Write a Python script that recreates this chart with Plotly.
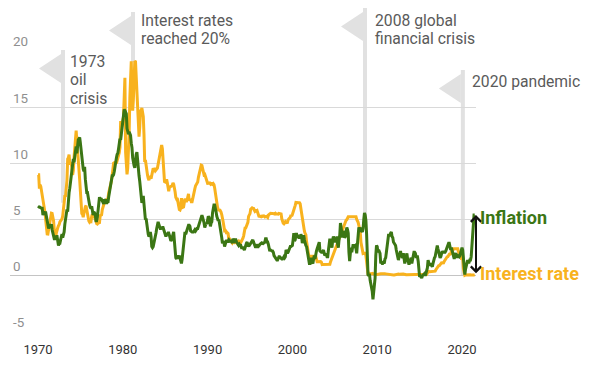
import plotly.graph_objects as go

# ---------------- data (monthly, starting January 1970) ----------------
start_year = 1970

inflation = [
    6.2, 6.1, 6.1, 6.1, 6.0, 6.0, 6.0, 5.4, 5.7, 5.6, 5.6, 5.6,   # 1970
    5.3, 5.0, 4.7, 4.2, 4.4, 4.6, 4.4, 4.6, 4.1, 3.8, 3.3, 3.3,   # 1971
    3.3, 3.5, 3.5, 3.5, 3.2, 2.7, 2.9, 2.9, 3.2, 3.4, 3.7, 3.4,   # 1972
    3.6, 3.9, 4.6, 5.1, 5.5, 5.9, 5.7, 7.4, 7.4, 7.8, 8.3, 8.7,   # 1973
    9.4, 10.0, 10.4, 10.1, 10.7, 10.9, 11.5, 10.9, 11.9, 12.1, 12.2, 12.3,  # 1974
    11.8, 11.2, 10.3, 10.2, 9.5, 9.3, 9.7, 8.6, 7.9, 7.4, 7.4, 6.9,  # 1975
    6.7, 6.3, 6.1, 6.0, 6.2, 5.9, 5.4, 5.7, 5.5, 5.5, 4.9, 4.9,   # 1976
    5.2, 5.9, 6.4, 7.0, 6.7, 6.9, 6.8, 6.6, 6.6, 6.4, 6.7, 6.7,   # 1977
    6.8, 6.4, 6.6, 6.5, 7.0, 7.4, 7.7, 7.9, 8.3, 8.9, 8.9, 9.0,   # 1978
    9.3, 9.9, 10.1, 10.5, 10.8, 10.9, 11.3, 11.8, 12.2, 12.1, 12.6, 13.3,  # 1979
    13.9, 14.2, 14.8, 14.7, 14.4, 14.4, 13.1, 12.9, 12.6, 12.8, 12.6, 12.5,  # 1980
    11.8, 11.4, 10.5, 10.0, 9.8, 9.6, 10.8, 10.8, 11.0, 10.1, 9.6, 8.9,  # 1981
    8.4, 7.6, 6.8, 6.5, 6.7, 7.1, 6.4, 5.9, 5.0, 5.1, 4.6, 3.8,   # 1982
    3.7, 3.5, 3.6, 3.9, 3.5, 2.6, 2.5, 2.6, 2.9, 2.9, 3.3, 3.8,   # 1983
    4.2, 4.6, 4.8, 4.6, 4.2, 4.2, 4.2, 4.3, 4.3, 4.3, 4.1, 3.9,   # 1984
    3.5, 3.5, 3.7, 3.7, 3.8, 3.8, 3.6, 3.3, 3.1, 3.2, 3.5, 3.8,   # 1985
    3.9, 3.1, 2.2, 1.6, 1.5, 1.8, 1.6, 1.6, 1.8, 1.5, 1.3, 1.1,   # 1986
    1.5, 2.1, 3.0, 3.8, 3.9, 3.7, 3.9, 4.3, 4.4, 4.5, 4.5, 4.4,   # 1987
    4.0, 3.9, 3.9, 3.9, 3.9, 4.0, 4.1, 4.0, 4.2, 4.2, 4.2, 4.4,   # 1988
    4.7, 4.8, 5.0, 5.1, 5.4, 5.2, 5.0, 4.7, 4.3, 4.5, 4.7, 4.6,   # 1989
    5.2, 5.3, 5.2, 4.7, 4.4, 4.7, 4.8, 5.6, 6.2, 6.3, 6.3, 6.1,   # 1990
    5.7, 5.3, 4.9, 4.9, 5.0, 4.7, 4.4, 3.8, 3.4, 2.9, 3.0, 3.1,   # 1991
    2.6, 2.8, 3.2, 3.2, 3.0, 3.1, 3.2, 3.1, 3.0, 3.2, 3.0, 2.9,   # 1992
    3.3, 3.2, 3.1, 3.2, 3.2, 3.0, 2.8, 2.8, 2.7, 2.8, 2.7, 2.7,   # 1993
    2.5, 2.5, 2.5, 2.4, 2.3, 2.5, 2.8, 2.9, 3.0, 2.6, 2.7, 2.7,   # 1994
    2.8, 2.9, 2.9, 3.1, 3.2, 3.0, 2.8, 2.6, 2.5, 2.8, 2.6, 2.5,   # 1995
    2.7, 2.7, 2.8, 2.9, 2.9, 2.8, 3.0, 2.9, 3.0, 3.0, 3.3, 3.3,   # 1996
    3.0, 3.0, 2.8, 2.5, 2.2, 2.3, 2.2, 2.2, 2.2, 2.1, 1.8, 1.7,   # 1997
    1.6, 1.4, 1.4, 1.4, 1.7, 1.7, 1.7, 1.6, 1.5, 1.5, 1.5, 1.6,   # 1998
    1.7, 1.6, 1.7, 2.3, 2.1, 2.0, 2.1, 2.3, 2.6, 2.6, 2.6, 2.7,   # 1999
    2.7, 3.2, 3.8, 3.1, 3.2, 3.7, 3.7, 3.4, 3.5, 3.4, 3.4, 3.4,   # 2000
    3.7, 3.5, 2.9, 3.3, 3.6, 3.2, 2.7, 2.7, 2.6, 2.1, 1.9, 1.6,   # 2001
    1.1, 1.1, 1.5, 1.6, 1.2, 1.1, 1.5, 1.8, 1.5, 2.0, 2.2, 2.4,   # 2002
    2.6, 3.0, 3.0, 2.2, 2.1, 2.1, 2.1, 2.2, 2.3, 2.0, 1.8, 1.9,   # 2003
    1.9, 1.7, 1.7, 2.3, 3.1, 3.3, 3.0, 2.7, 2.5, 3.2, 3.5, 3.3,   # 2004
    3.0, 3.0, 3.1, 3.5, 2.8, 2.5, 3.2, 3.6, 4.7, 4.3, 3.5, 3.4,   # 2005
    4.0, 3.6, 3.4, 3.5, 4.2, 4.3, 4.1, 3.8, 2.1, 1.3, 2.0, 2.5,   # 2006
    2.1, 2.4, 2.8, 2.6, 2.7, 2.7, 2.4, 2.0, 2.8, 3.5, 4.3, 4.1,   # 2007
    4.3, 4.0, 4.0, 3.9, 4.2, 5.0, 5.6, 5.4, 4.9, 3.7, 1.1, 0.1,   # 2008
    0.0, 0.2, -0.4, -0.7, -1.3, -1.4, -2.1, -1.5, -1.3, -0.2, 1.8, 2.7,  # 2009
    2.6, 2.1, 2.3, 2.2, 2.0, 1.1, 1.2, 1.1, 1.1, 1.2, 1.1, 1.5,   # 2010
    1.6, 2.1, 2.7, 3.2, 3.6, 3.6, 3.6, 3.8, 3.9, 3.5, 3.4, 3.0,   # 2011
    2.9, 2.9, 2.7, 2.3, 1.7, 1.7, 1.4, 1.7, 2.0, 2.2, 1.8, 1.7,   # 2012
    1.6, 2.0, 1.5, 1.1, 1.4, 1.8, 2.0, 1.5, 1.2, 1.0, 1.2, 1.5,   # 2013
    1.6, 1.1, 1.5, 2.0, 2.1, 2.1, 2.0, 1.7, 1.7, 1.7, 1.3, 0.8,   # 2014
    -0.1, 0.0, -0.1, -0.2, 0.0, 0.1, 0.2, 0.2, 0.0, 0.2, 0.5, 0.7,  # 2015
    1.4, 1.0, 0.9, 1.1, 1.0, 1.0, 0.8, 1.1, 1.5, 1.6, 1.7, 2.1,   # 2016
    2.5, 2.7, 2.4, 2.2, 1.9, 1.6, 1.7, 1.9, 2.2, 2.0, 2.2, 2.1,   # 2017
    2.1, 2.2, 2.4, 2.5, 2.8, 2.9, 2.9, 2.7, 2.3, 2.5, 2.2, 1.9,   # 2018
    1.6, 1.5, 1.9, 2.0, 1.8, 1.6, 1.8, 1.7, 1.7, 1.8, 2.1, 2.3,   # 2019
    2.5, 2.3, 1.5, 0.3, 0.1, 0.6, 1.0, 1.3, 1.4, 1.2, 1.2, 1.4,   # 2020
    1.4, 1.7, 2.6, 4.2, 5.0, 5.4, 5.4,                            # 2021
]

interest_rate = [
    8.98, 8.98, 7.76, 8.10, 7.94, 7.60, 7.21, 6.61, 6.29, 6.20, 5.60, 4.90,  # 1970
    4.14, 3.72, 3.71, 4.16, 4.63, 4.91, 5.31, 5.57, 5.55, 5.20, 4.91, 4.14,  # 1971
    3.50, 3.29, 3.83, 4.17, 4.27, 4.46, 4.55, 4.80, 4.87, 5.04, 5.06, 5.33,  # 1972
    5.94, 6.58, 7.09, 7.12, 7.84, 8.49, 10.40, 10.50, 10.78, 10.01, 10.03, 9.95,  # 1973
    9.65, 8.97, 9.35, 10.51, 11.31, 11.93, 12.92, 12.01, 11.34, 10.06, 9.45, 8.53,  # 1974
    7.13, 6.24, 5.54, 5.49, 5.22, 5.55, 6.10, 6.14, 6.24, 5.82, 5.22, 5.20,  # 1975
    4.87, 4.77, 4.84, 4.82, 5.29, 5.48, 5.31, 5.29, 5.25, 5.03, 4.95, 4.65,  # 1976
    4.61, 4.68, 4.69, 4.73, 5.35, 5.39, 5.42, 5.90, 6.14, 6.47, 6.51, 6.56,  # 1977
    6.70, 6.78, 6.79, 6.89, 7.36, 7.60, 7.81, 8.04, 8.45, 8.96, 9.76, 10.03,  # 1978
    10.07, 10.06, 10.09, 10.01, 10.24, 10.29, 10.47, 10.94, 11.43, 13.77, 13.18, 13.78,  # 1979
    13.82, 14.13, 17.19, 17.61, 10.98, 9.47, 9.03, 9.61, 10.87, 12.81, 15.85, 18.90,  # 1980
    19.08, 15.93, 14.70, 15.72, 18.52, 19.10, 19.04, 17.82, 15.87, 15.08, 13.31, 12.37,  # 1981
    13.22, 14.78, 14.68, 14.94, 14.45, 14.15, 12.59, 10.12, 10.31, 9.71, 9.20, 8.95,  # 1982
    8.68, 8.51, 8.77, 8.80, 8.63, 8.98, 9.37, 9.56, 9.45, 9.48, 9.34, 9.47,  # 1983
    9.56, 9.59, 9.91, 10.29, 10.32, 11.06, 11.23, 11.64, 11.30, 9.99, 9.43, 8.38,  # 1984
    8.35, 8.50, 8.58, 8.27, 7.97, 7.53, 7.88, 7.90, 7.92, 7.99, 8.05, 8.27,  # 1985
    8.14, 7.86, 7.48, 6.99, 6.85, 6.92, 6.56, 6.17, 5.89, 5.85, 6.04, 6.91,  # 1986
    6.43, 6.10, 6.13, 6.37, 6.85, 6.73, 6.58, 6.73, 7.22, 7.29, 6.69, 6.77,  # 1987
    6.83, 6.58, 6.58, 6.87, 7.09, 7.51, 7.75, 8.01, 8.19, 8.30, 8.35, 8.76,  # 1988
    9.12, 9.36, 9.85, 9.84, 9.81, 9.53, 9.24, 8.99, 9.02, 8.84, 8.55, 8.45,  # 1989
    8.23, 8.24, 8.28, 8.26, 8.18, 8.29, 8.15, 8.13, 8.20, 8.11, 7.81, 7.31,  # 1990
    6.91, 6.25, 6.12, 5.91, 5.78, 5.90, 5.82, 5.66, 5.45, 5.21, 4.81, 4.43,  # 1991
    4.03, 4.06, 3.98, 3.73, 3.82, 3.76, 3.25, 3.30, 3.22, 3.10, 3.09, 2.92,  # 1992
    3.02, 3.03, 3.07, 2.96, 3.00, 3.04, 3.06, 3.03, 3.09, 2.99, 3.02, 2.96,  # 1993
    3.05, 3.25, 3.34, 3.56, 4.01, 4.25, 4.26, 4.47, 4.73, 4.76, 5.29, 5.45,  # 1994
    5.53, 5.92, 5.98, 6.05, 6.01, 6.00, 5.85, 5.74, 5.80, 5.76, 5.80, 5.60,  # 1995
    5.56, 5.22, 5.31, 5.22, 5.24, 5.27, 5.40, 5.22, 5.30, 5.24, 5.31, 5.29,  # 1996
    5.25, 5.19, 5.39, 5.51, 5.50, 5.56, 5.52, 5.54, 5.54, 5.50, 5.52, 5.50,  # 1997
    5.56, 5.51, 5.49, 5.45, 5.49, 5.56, 5.54, 5.55, 5.51, 5.07, 4.83, 4.68,  # 1998
    4.63, 4.76, 4.81, 4.74, 4.74, 4.76, 4.99, 5.07, 5.22, 5.20, 5.42, 5.30,  # 1999
    5.45, 5.73, 5.85, 6.02, 6.27, 6.53, 6.54, 6.50, 6.52, 6.51, 6.51, 6.40,  # 2000
    5.98, 5.49, 5.31, 4.80, 4.21, 3.97, 3.77, 3.65, 3.07, 2.49, 2.09, 1.82,  # 2001
    1.73, 1.74, 1.73, 1.75, 1.75, 1.75, 1.73, 1.74, 1.75, 1.75, 1.34, 1.24,  # 2002
    1.24, 1.26, 1.25, 1.26, 1.26, 1.22, 1.01, 1.03, 1.01, 1.01, 1.00, 0.98,  # 2003
    1.00, 1.01, 1.00, 1.00, 1.00, 1.03, 1.26, 1.43, 1.61, 1.76, 1.93, 2.16,  # 2004
    2.28, 2.50, 2.63, 2.79, 3.00, 3.04, 3.26, 3.50, 3.62, 3.78, 4.00, 4.16,  # 2005
    4.29, 4.49, 4.59, 4.79, 4.94, 4.99, 5.24, 5.25, 5.25, 5.25, 5.25, 5.24,  # 2006
    5.25, 5.26, 5.26, 5.25, 5.25, 5.25, 5.26, 5.02, 4.94, 4.76, 4.49, 4.24,  # 2007
    3.94, 2.98, 2.61, 2.28, 1.98, 2.00, 2.01, 2.00, 1.81, 0.97, 0.39, 0.16,  # 2008
    0.15, 0.22, 0.18, 0.15, 0.18, 0.21, 0.16, 0.16, 0.15, 0.12, 0.12, 0.12,  # 2009
    0.11, 0.13, 0.16, 0.20, 0.20, 0.18, 0.18, 0.19, 0.19, 0.19, 0.19, 0.18,  # 2010
    0.17, 0.16, 0.14, 0.10, 0.09, 0.09, 0.07, 0.10, 0.08, 0.07, 0.08, 0.07,  # 2011
    0.08, 0.10, 0.13, 0.14, 0.16, 0.16, 0.16, 0.13, 0.14, 0.16, 0.16, 0.16,  # 2012
    0.14, 0.15, 0.14, 0.15, 0.11, 0.09, 0.09, 0.08, 0.08, 0.09, 0.08, 0.09,  # 2013
    0.07, 0.07, 0.08, 0.09, 0.09, 0.10, 0.09, 0.09, 0.09, 0.09, 0.09, 0.12,  # 2014
    0.11, 0.11, 0.11, 0.12, 0.12, 0.13, 0.13, 0.14, 0.14, 0.12, 0.12, 0.24,  # 2015
    0.34, 0.38, 0.36, 0.37, 0.37, 0.38, 0.39, 0.40, 0.40, 0.40, 0.41, 0.54,  # 2016
    0.65, 0.66, 0.79, 0.90, 0.91, 1.04, 1.15, 1.16, 1.15, 1.15, 1.16, 1.30,  # 2017
    1.41, 1.42, 1.51, 1.69, 1.70, 1.82, 1.91, 1.91, 1.95, 2.19, 2.20, 2.27,  # 2018
    2.40, 2.40, 2.41, 2.42, 2.39, 2.38, 2.40, 2.13, 2.04, 1.83, 1.55, 1.55,  # 2019
    1.55, 1.58, 0.65, 0.05, 0.05, 0.08, 0.09, 0.10, 0.09, 0.09, 0.09, 0.09,  # 2020
    0.09, 0.08, 0.07, 0.07, 0.06, 0.08, 0.10,                                # 2021
]

x_tick_vals = [1970, 1980, 1990, 2000, 2010, 2020]
x_tick_text = ["1970", "1980", "1990", "2000", "2010", "2020"]
y_tick_vals = [-5, 0, 5, 10, 15, 20]
y_tick_text = ["-5", "0", "5", "10", "15", "20"]

event_years = [1972.95, 1981.2, 2008.56, 2020.1]
event_labels = [["1973", "oil", "crisis"],
                ["Interest rates", "reached 20%"],
                ["2008 global", "financial crisis"],
                ["2020 pandemic"]]
event_pole_ends = [6.5, 19.0, 5.0, 0.0]

series_names = ["Inflation", "Interest rate"]

# ---------------- style ----------------
GREEN = "#3b7614"
ORANGE = "#f8b21e"
FLAG = "#e1e1e1"
TEXT = "#5a5a5a"
FONT = "Roboto"

W, H = 600, 368
ML, MR, MT, MB = 10, 124, 51, 36
PH = H - MT - MB
Y_RANGE = [-5, 20]


def px_to_paper(py):
    """convert a vertical pixel position of the figure into paper units"""
    return (H - MB - py) / PH


def val_to_paper(v):
    return (v - Y_RANGE[0]) / (Y_RANGE[1] - Y_RANGE[0])


# x positions of monthly observations
months = [start_year + i / 12 for i in range(len(inflation))]

fig = go.Figure()
fig.add_trace(go.Scatter(x=months, y=interest_rate, mode="lines",
                         name=series_names[1],
                         line=dict(color=ORANGE, width=3), hoverinfo="skip"))
fig.add_trace(go.Scatter(x=months, y=inflation, mode="lines",
                         name=series_names[0],
                         line=dict(color=GREEN, width=3), hoverinfo="skip"))

shapes = []
annotations = []
pole_tops_px = [50, 12, 8, 70]
text_first_px = [61, 20, 20, 81]
text_dx = [5, 6, 8, 7]
line_gap = 18.5
for yr, lines, end, top, tpx, dx in zip(event_years, event_labels, event_pole_ends,
                                        pole_tops_px, text_first_px, text_dx):
    # pole
    shapes.append(dict(type="line", xref="x", yref="paper", x0=yr, x1=yr,
                       y0=val_to_paper(end), y1=px_to_paper(top),
                       line=dict(color=FLAG, width=4), layer="below"))
    # flag triangle
    shapes.append(dict(type="path", xref="x", yref="paper",
                       xsizemode="pixel", ysizemode="pixel",
                       xanchor=yr, yanchor=px_to_paper(top),
                       path="M -2,-4 L -2,-33 L -24,-18.5 Z",
                       fillcolor=FLAG, line=dict(width=0), layer="below"))
    for k, txt in enumerate(lines):
        annotations.append(dict(x=yr, xref="x", y=px_to_paper(tpx + k * line_gap),
                                yref="paper", text=txt, showarrow=False,
                                xanchor="left", yanchor="middle", xshift=dx,
                                font=dict(family=FONT, size=15.7, color=TEXT)))

# double arrow between latest inflation and latest interest rate
annotations.append(dict(x=1.0, xref="paper", y=inflation[-1], yref="y",
                        ax=0, axref="pixel", ay=interest_rate[-1], ayref="y",
                        text="", showarrow=True, arrowhead=4, startarrowhead=4,
                        arrowside="end+start", arrowwidth=2, arrowsize=1,
                        startarrowsize=1, arrowcolor="#111111"))
annotations.append(dict(x=1.0, xref="paper", y=inflation[-1], yref="y",
                        text=series_names[0], showarrow=False, xanchor="left",
                        yanchor="middle", xshift=2, yshift=-2,
                        font=dict(family=FONT, size=18, color=GREEN, weight="bold")))
annotations.append(dict(x=1.0, xref="paper", y=interest_rate[-1], yref="y",
                        text=series_names[1], showarrow=False, xanchor="left",
                        yanchor="middle", xshift=2, yshift=1,
                        font=dict(family=FONT, size=18, color=ORANGE, weight="bold")))

fig.update_layout(
    width=W, height=H,
    margin=dict(l=ML, r=MR, t=MT, b=MB, pad=0),
    paper_bgcolor="white", plot_bgcolor="white",
    showlegend=False,
    font=dict(family=FONT),
    shapes=shapes, annotations=annotations,
    xaxis=dict(range=[1966.70, 2021.65], tickvals=x_tick_vals, ticktext=x_tick_text,
               showgrid=False, zeroline=False, showline=False, automargin=False,
               ticks="outside", ticklen=5, tickcolor="rgba(0,0,0,0)",
               tickfont=dict(family=FONT, size=13, color="#333333")),
    yaxis=dict(range=Y_RANGE, tickvals=y_tick_vals, ticktext=y_tick_text,
               showgrid=True, gridcolor="#d9d9d9", gridwidth=1,
               zeroline=True, zerolinecolor="#c4c4c4", zerolinewidth=1,
               showline=False, ticks="", automargin=False,
               ticklabelposition="inside top", ticklabeloverflow="allow",
               tickfont=dict(family=FONT, size=13.4, color="#8f8f8f")),
)

fig.write_html("out.html",
               config={"displayModeBar": False, "staticPlot": True},
               post_script="document.body.style.margin='0';document.body.style.padding='0';")
